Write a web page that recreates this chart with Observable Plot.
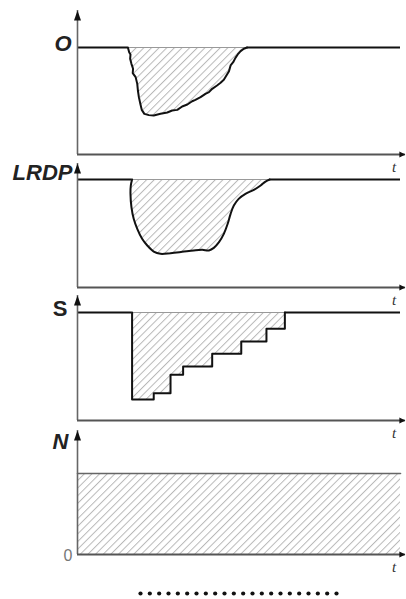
<!DOCTYPE html>
<html>
<head>
<meta charset="utf-8">
<script src="https://cdn.jsdelivr.net/npm/d3@7"></script>
<script src="https://cdn.jsdelivr.net/npm/@observablehq/plot@0.6"></script>
<style>
  html, body { margin: 0; padding: 0; background: #fff; }
  #chart { position: relative; width: 406px; height: 599px; overflow: hidden; }
</style>
</head>
<body>
<div id="chart"></div>
<script>
// ---- Data (time 0..100, baseline level = 100) ----
const panelLabels = ["O", "LRDP", "S", "N"];
const timeLabel = "t";
const zeroLabel = "0";
const baseline = 100;

// Panel O: jagged dip
const oTime  = [15.6,16.0,16.4,16.3,16.7,17.2,17.1,18.0,18.5,18.7,19.0,19.5,19.9,20.7,22.1,23.6,25.7,27.8,29.3,30.9,32.4,34.0,35.5,36.5,38.1,39.6,40.7,41.7,43.2,44.3,45.3,46.1,46.9,47.4,48.2,48.9,49.6,50.5,51.5,52.5];
const oValue = [100,95.6,93.5,89.4,84.7,80.1,76.0,72.3,66.0,59.8,53.6,46.7,41.7,38.0,36.8,36.4,38.0,39.3,41.1,41.7,44.9,46.7,49.8,51.1,53.6,56.7,58.3,61.4,64.5,67.0,69.8,73.8,77.9,83.2,86.3,90.3,93.5,96.6,98.8,100];

// Panel LRDP: smooth dip
const lTime  = [16.9,16.5,16.4,16.7,17.4,18.5,20.0,21.6,23.6,25.7,28.8,32.4,36.0,38.6,40.7,42.2,43.8,45.3,46.5,47.4,48.4,49.9,52.0,54.6,56.7,58.2,59.5];
const lValue = [100,94.4,86.7,74.4,63.6,54.3,45.1,38.9,33.3,31.2,31.8,33.0,34.3,34.9,34.3,36.7,42.0,49.7,59.0,68.2,75.9,82.1,86.7,90.4,94.4,98.1,100];

// Panel S: step recovery
const sTime  = [16.9,23.6,28.8,32.7,41.7,50.7,58.5,64.2];
const sValue = [19.4,25.3,42.3,50.0,61.8,73.1,84.9,100];

// Panel N: constant level
const nTime  = [0, 100];
const nValue = [100, 100];

// Dotted row below
const dotSlots = [0,1,2,3,4,5,6,7,8,9,10,11,12,13,14,15,16,17,18,19,20,21];

// ---- helpers ----
const zip = (xs, ys) => xs.map((x, i) => ({x, y: ys[i]}));
const arrowUp = {draw(ctx) { ctx.moveTo(0, 0); ctx.lineTo(3.5, 10); ctx.lineTo(-3.5, 10); ctx.closePath(); }};
const arrowRight = {draw(ctx) { ctx.moveTo(0, 0); ctx.lineTo(-6, -3); ctx.lineTo(-6, 3); ctx.closePath(); }};
const labelFont = "Liberation Sans, Arial, sans-serif";
const serifFont = "Liberation Serif, Times New Roman, serif";

function addHatch(svg, id) {
  const ns = "http://www.w3.org/2000/svg";
  const defs = document.createElementNS(ns, "defs");
  const pat = document.createElementNS(ns, "pattern");
  pat.setAttribute("id", id);
  pat.setAttribute("patternUnits", "userSpaceOnUse");
  pat.setAttribute("width", "5.4");
  pat.setAttribute("height", "5.4");
  pat.setAttribute("patternTransform", "rotate(45)");
  const ln = document.createElementNS(ns, "line");
  ln.setAttribute("x1", "0"); ln.setAttribute("y1", "-1");
  ln.setAttribute("x2", "0"); ln.setAttribute("y2", "7");
  ln.setAttribute("stroke", "#b8b8b8");
  ln.setAttribute("stroke-width", "2");
  pat.appendChild(ln);
  defs.appendChild(pat);
  svg.insertBefore(defs, svg.firstChild);
}

function panel({top, height, marginTop, marginBottom, tip, marks, label, labelY, labelDx, labelStyle, labelWeight, hatchId, zero}) {
  const svg = Plot.plot({
    width: 406, height, marginLeft: 77, marginRight: 6, marginTop, marginBottom,
    x: {domain: [0, 100], axis: null},
    y: {domain: [0, 100], axis: null},
    style: {position: "absolute", top: top + "px", left: "0px", background: "transparent", overflow: "visible"},
    marks: [
      ...marks,
      // y axis with arrow
      Plot.ruleX([0], {y1: 0, y2: tip, stroke: "#666", strokeWidth: 1.6}),
      Plot.dot([{x: 0, y: tip}], {x: "x", y: "y", symbol: arrowUp, fill: "#111", stroke: null}),
      // x axis with arrow
      Plot.ruleY([0], {x1: 0, x2: 101.5, stroke: "#555", strokeWidth: 2}),
      Plot.dot([{x: 101.5, y: 0}], {x: "x", y: "y", symbol: arrowRight, fill: "#111", stroke: null}),
      Plot.text([timeLabel], {x: 98, y: 0, dy: 13, text: d => d, fontFamily: serifFont, fontStyle: "italic", fontSize: 15, fill: "#333"}),
      Plot.text([label], {x: 0, y: labelY, dx: labelDx, text: d => d, textAnchor: "end", fontFamily: labelFont, fontStyle: labelStyle, fontWeight: labelWeight, fontSize: 22, fill: "#222"}),
      ...(zero ? [Plot.text([zeroLabel], {x: 0, y: 0, dx: -5, dy: 1, text: d => d, textAnchor: "end", fontFamily: labelFont, fontSize: 16, fill: "#777"})] : [])
    ]
  });
  addHatch(svg, hatchId);
  return svg;
}

function dipMarks(time, value, hatchId, curve) {
  const dip = zip(time, value);
  const start = time[0], end = time[time.length - 1];
  const lineData = curve === "step-after" ? [{x: start, y: baseline}, ...dip] : dip;
  return [
    Plot.areaY(dip, {x: "x", y1: "y", y2: baseline, fill: `url(#${hatchId})`, curve}),
    Plot.ruleY([baseline], {x1: start, x2: end, stroke: "#999", strokeWidth: 1}),
    Plot.ruleY([baseline], {x1: 0, x2: start, stroke: "#111", strokeWidth: 2}),
    Plot.ruleY([baseline], {x1: end, x2: 100, stroke: "#111", strokeWidth: 2}),
    Plot.line(lineData, {x: "x", y: "y", stroke: "#111", strokeWidth: 2, curve, strokeLinejoin: "round"})
  ];
}

const root = document.getElementById("chart");

root.appendChild(panel({
  top: 0, height: 184, marginTop: 47, marginBottom: 30, tip: 134.6,
  marks: dipMarks(oTime, oValue, "hatchO", "linear"),
  label: panelLabels[0], labelY: 103.7, labelDx: -6, labelStyle: "italic", labelWeight: "bold", hatchId: "hatchO"
}));

root.appendChild(panel({
  top: 150, height: 167, marginTop: 29, marginBottom: 30, tip: 114.8,
  marks: dipMarks(lTime, lValue, "hatchL", "catmull-rom"),
  label: panelLabels[1], labelY: 106.5, labelDx: -5, labelStyle: "italic", labelWeight: "bold", hatchId: "hatchL"
}));

root.appendChild(panel({
  top: 285, height: 165, marginTop: 27, marginBottom: 30, tip: 115.7,
  marks: dipMarks(sTime, sValue, "hatchS", "step-after"),
  label: panelLabels[2], labelY: 103.7, labelDx: -10, labelStyle: "normal", labelWeight: "bold", hatchId: "hatchS"
}));

root.appendChild(panel({
  top: 420, height: 179, marginTop: 53, marginBottom: 45, tip: 153,
  marks: [
    Plot.areaY(zip(nTime, nValue), {x: "x", y1: 0, y2: "y", fill: "url(#hatchN)"}),
    Plot.line(zip(nTime, nValue), {x: "x", y: "y", stroke: "#666", strokeWidth: 1.6})
  ],
  label: panelLabels[3], labelY: 139.5, labelDx: -9, labelStyle: "italic", labelWeight: "bold", hatchId: "hatchN", zero: true
}));

root.appendChild(Plot.plot({
  width: 406, height: 20, marginLeft: 140, marginRight: 70, marginTop: 0, marginBottom: 0,
  x: {domain: [0, 21], axis: null},
  style: {position: "absolute", top: "583px", left: "0px", background: "transparent"},
  marks: [Plot.dot(dotSlots, {x: d => d, frameAnchor: "middle", r: 2.1, fill: "#111", stroke: null})]
}));
</script>
</body>
</html>
